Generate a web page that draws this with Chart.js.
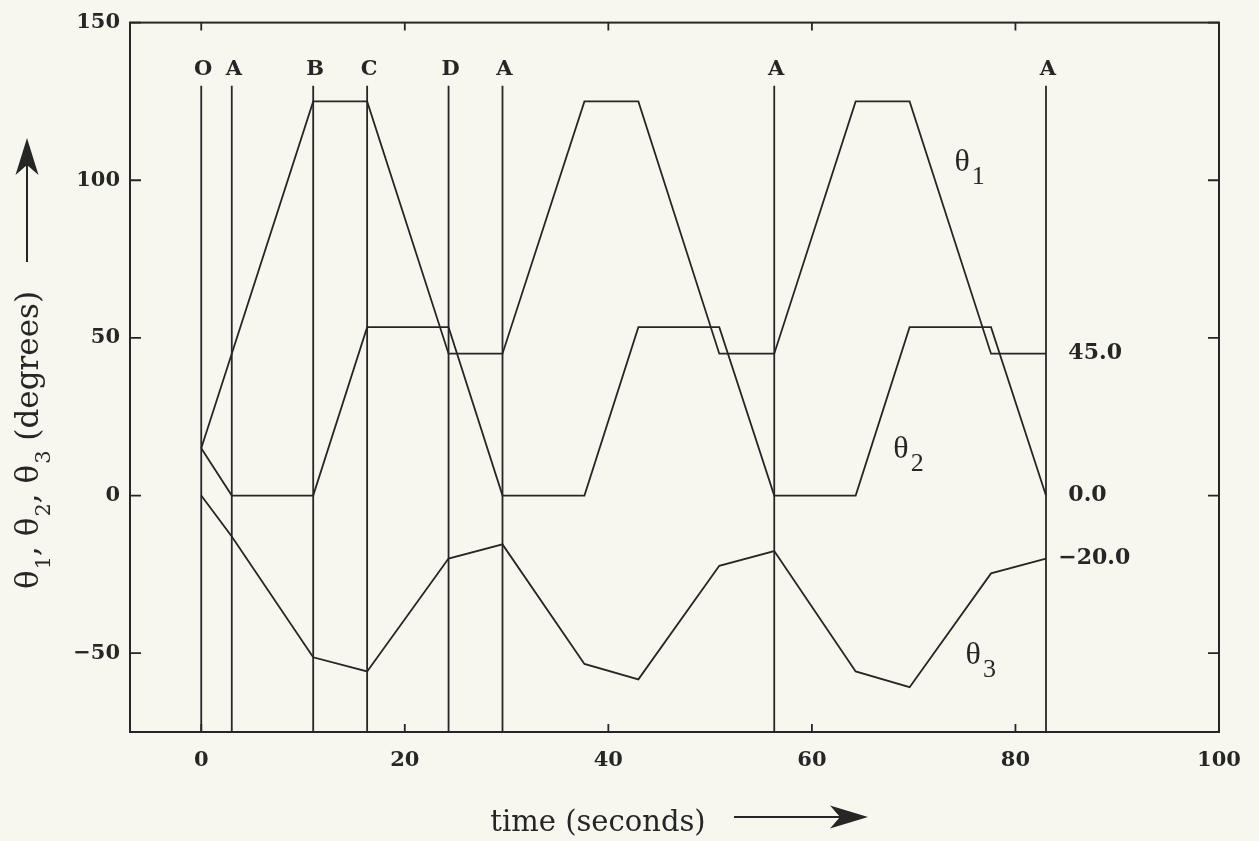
<!DOCTYPE html>
<html><head><meta charset="utf-8">
<script src="https://cdn.jsdelivr.net/npm/chart.js@4.4.0/dist/chart.umd.min.js"></script>
<style>html,body{margin:0;padding:0;background:#f7f7ef;}</style>
</head><body>
<canvas id="c" width="1259" height="841"></canvas>
<script>
// ---- data ----
const theta1T = [0, 11, 16.3, 24.3, 29.6, 37.65, 42.95, 50.9, 56.3, 64.3, 69.6, 77.6, 83.0];
const theta1V = [15, 125, 125, 45, 45, 125, 125, 45, 45, 125, 125, 45, 45];
const theta2T = [0, 3, 11, 16.3, 24.3, 29.6, 37.65, 42.95, 50.9, 56.3, 64.3, 69.6, 77.6, 83.0];
const theta2V = [15, 0, 0, 53.4, 53.4, 0, 0, 53.4, 53.4, 0, 0, 53.4, 53.4, 0];
const theta3T = [0, 3, 11, 16.3, 24.3, 29.6, 37.65, 42.95, 50.9, 56.3, 64.3, 69.6, 77.6, 83.0];
const theta3V = [0, -13, -51.3, -55.8, -20, -15.5, -53.4, -58.3, -22.3, -17.6, -55.8, -60.8, -24.7, -20];
const eventT = [0, 3, 11, 16.3, 24.3, 29.6, 56.3, 83.0];
const eventLabels = ['O', 'A', 'B', 'C', 'D', 'A', 'A', 'A'];
const eventTop = 130;
const eventLabelY = 135;
const xTicks = [0, 20, 40, 60, 80, 100];
const yTicks = [-50, 0, 50, 100, 150];
const endLabels = ['45.0', '0.0', '−20.0'];
const endValues = [45, 0, -20];
const endLabelX = [85.2, 85.2, 84.2];
const thetaNames = ['1', '2', '3'];
const thetaLabelX = [74.0, 68.0, 75.1];
const thetaLabelY = [103.0, 12.0, -53.3];

const INK = '#262626';
const BG = '#f7f7ef';

const datasets = [];
[[theta1T, theta1V], [theta2T, theta2V], [theta3T, theta3V]].forEach(([T, V], k) => {
  datasets.push({
    label: 'θ' + thetaNames[k],
    data: T.map((t, i) => ({ x: t, y: V[i] })),
    showLine: true, borderColor: INK, borderWidth: 1.8, pointRadius: 0, fill: false
  });
});
eventT.forEach((t, i) => {
  datasets.push({
    label: eventLabels[i],
    data: [{ x: t, y: -75 }, { x: t, y: eventTop }],
    showLine: true, borderColor: INK, borderWidth: 1.8, pointRadius: 0, fill: false
  });
});

function drawSubText(ctx, parts, x, y) {
  let cx = x;
  parts.forEach(p => {
    ctx.font = p.font;
    ctx.fillText(p.t, cx, y + (p.dy || 0));
    cx += ctx.measureText(p.t).width + (p.gap || 0);
  });
  return cx - x;
}
function measureParts(ctx, parts) {
  let w = 0;
  parts.forEach(p => { ctx.font = p.font; w += ctx.measureText(p.t).width + (p.gap || 0); });
  return w;
}

const deco = {
  id: 'deco',
  beforeDraw(chart) {
    const ctx = chart.ctx;
    ctx.save();
    ctx.fillStyle = BG;
    ctx.fillRect(0, 0, chart.width, chart.height);
    ctx.restore();
  },
  afterDraw(chart) {
    const ctx = chart.ctx;
    const a = chart.chartArea;
    const xs = chart.scales.x, ys = chart.scales.y;
    ctx.save();
    ctx.strokeStyle = INK; ctx.fillStyle = INK;
    // frame
    ctx.lineWidth = 2;
    ctx.strokeRect(a.left, a.top, a.right - a.left, a.bottom - a.top);
    // inward ticks
    ctx.lineWidth = 1.8;
    ctx.beginPath();
    xTicks.forEach(v => {
      const px = xs.getPixelForValue(v);
      ctx.moveTo(px, a.bottom); ctx.lineTo(px, a.bottom - 8);
      ctx.moveTo(px, a.top); ctx.lineTo(px, a.top + 8);
    });
    yTicks.forEach(v => {
      const py = ys.getPixelForValue(v);
      ctx.moveTo(a.left, py); ctx.lineTo(a.left + 11, py);
      ctx.moveTo(a.right, py); ctx.lineTo(a.right - 11, py);
    });
    ctx.stroke();
    // event labels
    ctx.font = 'bold 21px "DejaVu Serif"';
    ctx.textAlign = 'center'; ctx.textBaseline = 'middle';
    eventT.forEach((t, i) => {
      ctx.fillText(eventLabels[i], xs.getPixelForValue(t) + 2, ys.getPixelForValue(eventLabelY));
    });
    // end labels
    ctx.font = 'bold 22px "DejaVu Serif"';
    ctx.textAlign = 'left';
    endLabels.forEach((s, i) => {
      ctx.fillText(s, xs.getPixelForValue(endLabelX[i]), ys.getPixelForValue(endValues[i]));
    });
    // theta labels
    ctx.textBaseline = 'alphabetic';
    thetaNames.forEach((n, i) => {
      drawSubText(ctx, [
        { t: 'θ', font: '32px "Liberation Serif"', gap: 2 },
        { t: n, font: '26px "Liberation Serif"', dy: 13 }
      ], xs.getPixelForValue(thetaLabelX[i]), ys.getPixelForValue(thetaLabelY[i]));
    });
    // x title
    ctx.font = '29px "DejaVu Serif"';
    ctx.textAlign = 'center';
    ctx.fillText('time (seconds)', 598, 831);
    // x arrow
    ctx.lineWidth = 2;
    ctx.beginPath(); ctx.moveTo(734, 817); ctx.lineTo(845, 817); ctx.stroke();
    ctx.beginPath();
    ctx.moveTo(868, 817); ctx.lineTo(830, 805.5); ctx.lineTo(840, 817); ctx.lineTo(830, 828.5); ctx.closePath();
    ctx.fill();
    // y title (rotated)
    ctx.save();
    ctx.translate(38, 440);
    ctx.rotate(-Math.PI / 2);
    ctx.textAlign = 'left';
    const F = '31px "DejaVu Serif"', S = '21px "DejaVu Serif"';
    const parts = [
      { t: 'θ', font: F, gap: 1 }, { t: '1', font: S, dy: 12 }, { t: ', ', font: F },
      { t: 'θ', font: F, gap: 1 }, { t: '2', font: S, dy: 12 }, { t: ', ', font: F },
      { t: 'θ', font: F, gap: 1 }, { t: '3', font: S, dy: 12 }, { t: ' (degrees)', font: F }
    ];
    const w = measureParts(ctx, parts);
    drawSubText(ctx, parts, -w / 2, 0);
    ctx.restore();
    // y arrow
    ctx.beginPath(); ctx.moveTo(27, 262); ctx.lineTo(27, 165); ctx.stroke();
    ctx.beginPath();
    ctx.moveTo(27, 138); ctx.lineTo(15.5, 175); ctx.lineTo(27, 165); ctx.lineTo(38.5, 175); ctx.closePath();
    ctx.fill();
    ctx.restore();
  }
};

new Chart(document.getElementById('c'), {
  type: 'scatter',
  data: { datasets },
  options: {
    responsive: false, animation: false, devicePixelRatio: 1,
    layout: { padding: { top: 20, right: 40, left: 0, bottom: 0 } },
    plugins: { legend: { display: false }, tooltip: { enabled: false } },
    elements: { point: { radius: 0 }, line: { tension: 0 } },
    scales: {
      x: {
        type: 'linear', min: -7, max: 100,
        afterBuildTicks: s => { s.ticks = xTicks.map(v => ({ value: v })); },
        afterFit: s => { s.height = 109; },
        grid: { display: false, drawTicks: false },
        border: { display: false },
        ticks: { color: INK, font: { family: 'DejaVu Serif', size: 21, weight: 'bold' }, padding: 16, maxRotation: 0, autoSkip: false,
                 callback: v => String(v).replace('-', '−') }
      },
      y: {
        type: 'linear', min: -75, max: 150,
        afterBuildTicks: s => { s.ticks = yTicks.map(v => ({ value: v })); },
        afterFit: s => { s.width = 130; },
        grid: { display: false, drawTicks: false },
        border: { display: false },
        ticks: { color: INK, font: { family: 'DejaVu Serif', size: 21, weight: 'bold' }, padding: 10, autoSkip: false,
                 callback: v => String(v).replace('-', '−') }
      }
    }
  },
  plugins: [deco]
});
</script>
</body></html>
